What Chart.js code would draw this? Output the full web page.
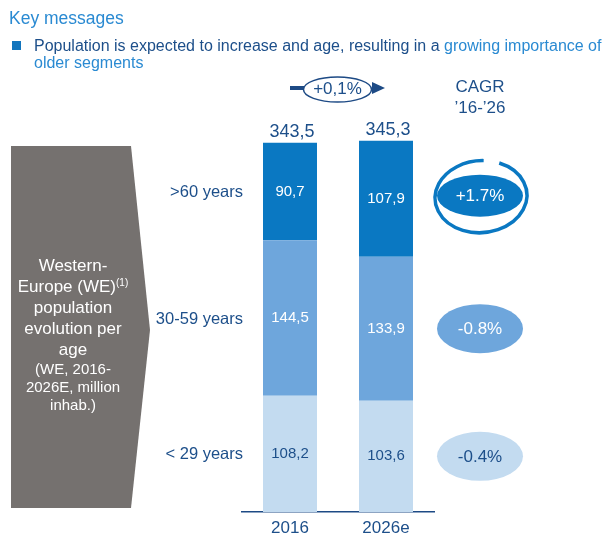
<!DOCTYPE html>
<html lang="en">
<head>
  <meta charset="UTF-8">
  <title>Western-Europe population evolution per age</title>
  <style>
    body {
      margin: 0;
      background: #fff;
      font-family: "Liberation Sans", Arial, sans-serif;
      color: #1d4f8a;
    }
    #wrap {
      position: relative;
      width: 609px;
      height: 538px;
      overflow: hidden;
    }
    #chart { position: absolute; left: 0; top: 0; }
    .abs { position: absolute; white-space: nowrap; }
    #title {
      left: 9px; top: 8px;
      font-size: 17.5px; line-height: 20px;
      color: #2a8ad2;
    }
    #bullet {
      left: 12px; top: 41px; width: 9px; height: 9px;
      background: #1275bd;
    }
    #msg {
      left: 34px; top: 37px;
      font-size: 16px; line-height: 17px;
      color: #1d4f8a;
    }
    #msg span { color: #2a8ad2; }
    #box {
      left: 11px; top: 255px; width: 124px;
      text-align: center; color: #fff;
      font-size: 17px; line-height: 21px;
    }
    #box .small { font-size: 15px; line-height: 18px; }
    #box sup { font-size: 10px; vertical-align: 6px; line-height: 0; }
    #cagr {
      left: 430px; top: 76px; width: 100px;
      text-align: center;
      font-size: 17px; line-height: 21px;
    }
    #growth {
      left: 303px; top: 79px; width: 69px;
      text-align: center;
      font-size: 17px; line-height: 20px;
    }
  </style>
</head>
<body>
<div id="wrap">
  <svg class="abs" style="left:0;top:0" width="609" height="538">
    <polygon points="11,146 131,146 150,330 131,508 11,508" fill="#75716f"/>
    <line x1="290" y1="88" x2="304" y2="88" stroke="#1d4a85" stroke-width="4"/>
    <ellipse cx="337.5" cy="89.5" rx="34" ry="12.5" fill="#fff" stroke="#1d4a85" stroke-width="1.5"/>
    <polygon points="372,82 385,88 372,94" fill="#1d4a85"/>
  </svg>
  <canvas id="chart" width="609" height="538"></canvas>
  <div id="title" class="abs">Key messages</div>
  <div id="bullet" class="abs"></div>
  <div id="msg" class="abs">Population is expected to increase and age, resulting in a <span>growing importance of<br>older segments</span></div>
  <div id="growth" class="abs">+0,1%</div>
  <div id="cagr" class="abs">CAGR<br>’16-’26</div>
  <div id="box" class="abs">
    Western-<br>Europe (WE)<sup>(1)</sup><br>population<br>evolution per<br>age<br>
    <div class="small">(WE, 2016-<br>2026E, million<br>inhab.)</div>
  </div>
</div>

<script src="https://cdn.jsdelivr.net/npm/chart.js"></script>
<script>
  const years = ['2016', '2026e'];
  const under29 = [108.2, 103.6];
  const age30to59 = [144.5, 133.9];
  const over60 = [90.7, 107.9];
  const totals = [343.5, 345.3];
  const ageLabels = ['< 29 years', '30-59 years', '>60 years'];
  const cagr = ['-0.4%', '-0.8%', '+1.7%'];

  const NAVY = '#1d4f8a';
  const fills = ['#c3dbf0', '#6ea6dc', '#0a78c2'];
  const valueColors = [NAVY, '#fff', '#fff'];

  const fmt = v => v.toFixed(1).replace('.', ',');

  const labelPlugin = {
    id: 'labels',
    afterDatasetsDraw(chart) {
      const ctx = chart.ctx;
      const n = chart.data.datasets.length;
      ctx.save();
      ctx.textBaseline = 'middle';

      // values inside the segments
      for (let d = 0; d < n; d++) {
        const meta = chart.getDatasetMeta(d);
        meta.data.forEach((bar, i) => {
          const yMid = (bar.y + bar.base) / 2;
          ctx.font = '15px "Liberation Sans", Arial, sans-serif';
          ctx.fillStyle = valueColors[d];
          ctx.textAlign = 'center';
          ctx.fillText(fmt(chart.data.datasets[d].data[i]), bar.x, yMid);
        });
      }

      // totals on top
      const top = chart.getDatasetMeta(n - 1);
      top.data.forEach((bar, i) => {
        ctx.font = '18px "Liberation Sans", Arial, sans-serif';
        ctx.fillStyle = NAVY;
        ctx.textAlign = 'center';
        ctx.fillText(fmt(totals[i]), bar.x + 2, bar.y - 11);
      });

      // age labels next to first bar, CAGR ovals next to last bar
      for (let d = 0; d < n; d++) {
        const meta = chart.getDatasetMeta(d);
        const first = meta.data[0];
        const last = meta.data[meta.data.length - 1];
        const y1 = (first.y + first.base) / 2;
        ctx.font = '16.5px "Liberation Sans", Arial, sans-serif';
        ctx.fillStyle = NAVY;
        ctx.textAlign = 'right';
        ctx.fillText(ageLabels[d], 243, y1 + 1);

        const y2 = (last.y + last.base) / 2 - (d === n - 1 ? 3 : 0);
        const cx = 480;
        ctx.beginPath();
        ctx.ellipse(cx, y2, 43, d === n - 1 ? 21 : 24.5, 0, 0, Math.PI * 2);
        ctx.fillStyle = fills[d];
        ctx.fill();
        if (d === n - 1) {
          ctx.beginPath();
          ctx.ellipse(cx + 1, y2 + 1, 46, 36, -0.08, -1.1, Math.PI * 2 - 1.45);
          ctx.strokeStyle = fills[d];
          ctx.lineWidth = 3.5;
          ctx.stroke();
        }
        ctx.font = '17px "Liberation Sans", Arial, sans-serif';
        ctx.fillStyle = d === 0 ? NAVY : '#fff';
        ctx.textAlign = 'center';
        ctx.fillText(cagr[d], cx, y2 + 1);
      }
      ctx.restore();
    }
  };

  const ctx = document.getElementById('chart').getContext('2d');
  new Chart(ctx, {
    type: 'bar',
    data: {
      labels: years,
      datasets: [
        { label: ageLabels[0], data: under29, backgroundColor: fills[0] },
        { label: ageLabels[1], data: age30to59, backgroundColor: fills[1] },
        { label: ageLabels[2], data: over60, backgroundColor: fills[2] }
      ]
    },
    options: {
      responsive: false,
      animation: false,
      devicePixelRatio: 1,
      layout: { padding: { left: 242, right: 175, top: 125, bottom: 0 } },
      plugins: { legend: { display: false }, tooltip: { enabled: false } },
      datasets: { bar: { barPercentage: 0.5625, categoryPercentage: 1, borderWidth: 0 } },
      scales: {
        x: {
          stacked: true,
          grid: { display: false, drawTicks: false },
          border: { display: true, color: '#1d4a85', width: 1.5 },
          ticks: {
            color: NAVY,
            padding: 6,
            font: { size: 17, family: '"Liberation Sans", Arial, sans-serif' }
          },
          afterFit(scale) { scale.height = 26; }
        },
        y: {
          stacked: true,
          display: false,
          min: 0,
          max: 360
        }
      }
    },
    plugins: [labelPlugin]
  });
</script>
</body>
</html>
